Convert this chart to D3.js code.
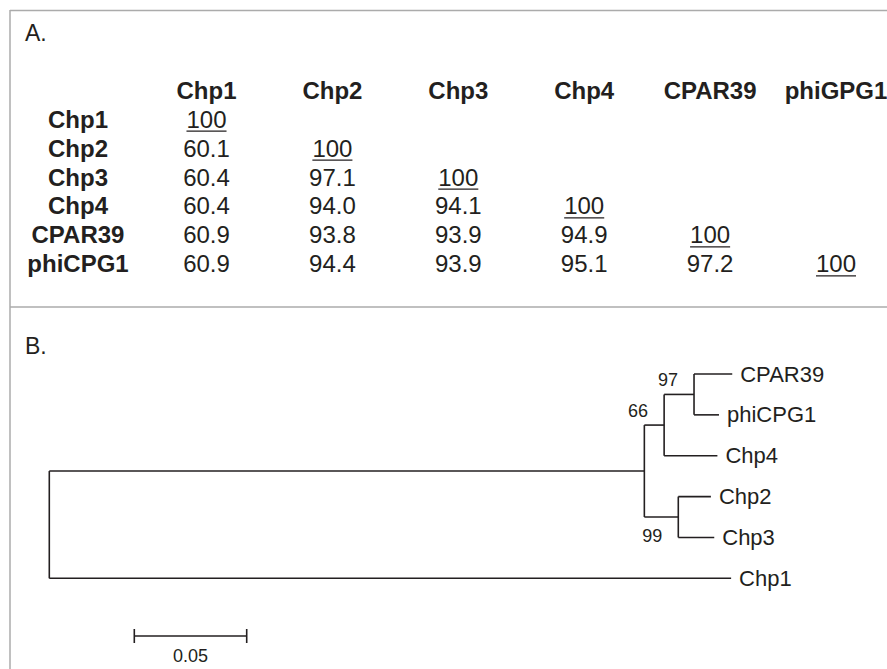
<!DOCTYPE html>
<html lang="en">
<head>
    <meta charset="UTF-8">
    <title>Chp identity and tree</title>
    <script src="https://d3js.org/d3.v7.min.js"></script>
    <style>
        body { margin: 0; background: #fff; }
        text {
            font-family: "Liberation Sans", Arial, sans-serif;
            fill: #231f20;
        }
        .panel-label { font-size: 23px; }
        .head { font-size: 24px; font-weight: bold; text-anchor: middle; }
        .cell { font-size: 24px; text-anchor: middle; }
        .leaf { font-size: 22px; dominant-baseline: central; }
        .boot { font-size: 18px; text-anchor: middle; }
        .scale-label { font-size: 18px; text-anchor: middle; }
    </style>
</head>
<body>
<script>
    // A. pairwise identity table
    let rowNames = ["Chp1", "Chp2", "Chp3", "Chp4", "CPAR39", "phiCPG1"];
    let colNames = ["Chp1", "Chp2", "Chp3", "Chp4", "CPAR39", "phiGPG1"];
    let identity = [
        [100],
        [60.1, 100],
        [60.4, 97.1, 100],
        [60.4, 94.0, 94.1, 100],
        [60.9, 93.8, 93.9, 94.9, 100],
        [60.9, 94.4, 93.9, 95.1, 97.2, 100]
    ];

    // B. tree, as parent links with branch lengths
    let nodeIds    = ["root", "n1", "Chp1", "n66", "n99", "n97", "Chp4", "CPAR39", "phiCPG1", "Chp2", "Chp3"];
    let parentIds  = ["",     "root", "root", "n1", "n1", "n66", "n66", "n97", "n97", "n99", "n99"];
    let branchLens = [0, 0.2647, 0.3033, 0.0088, 0.0151, 0.0133, 0.0237, 0.0170, 0.0111, 0.0145, 0.0160];
    let bootstrap  = [null, null, null, 66, 99, 97, null, null, null, null, null];
    let leafOrder  = ["CPAR39", "phiCPG1", "Chp4", "Chp2", "Chp3", "Chp1"];
    let scaleBarValue = 0.05;

    let width = 887;
    let height = 669;

    let svg = d3.select("body").append("svg")
        .attr("width", width)
        .attr("height", height);

    // frame
    let frameColor = "#ababab";
    svg.append("line")
        .attr("x1", 10).attr("y1", 10.5).attr("x2", width).attr("y2", 10.5)
        .attr("stroke", frameColor).attr("stroke-width", 1.5);
    svg.append("line")
        .attr("x1", 10).attr("y1", 10).attr("x2", 10).attr("y2", height)
        .attr("stroke", frameColor).attr("stroke-width", 1.5);
    svg.append("line")
        .attr("x1", 10).attr("y1", 307).attr("x2", width).attr("y2", 307)
        .attr("stroke", frameColor).attr("stroke-width", 1.5);

    svg.append("text").attr("class", "panel-label")
        .attr("x", 25).attr("y", 41).text("A.");
    svg.append("text").attr("class", "panel-label")
        .attr("x", 25).attr("y", 354).text("B.");

    // ---- table ----
    let xCol = d3.scalePoint().domain(colNames).range([206.5, 836]);
    let yRow = d3.scalePoint().domain(rowNames).range([127.7, 272.3]);
    let rowLabelX = 78;
    let headY = 99;

    svg.selectAll(".colhead")
        .data(colNames)
        .enter().append("text")
        .attr("class", "head")
        .attr("x", d => xCol(d))
        .attr("y", headY)
        .text(d => d);

    svg.selectAll(".rowhead")
        .data(rowNames)
        .enter().append("text")
        .attr("class", "head")
        .attr("x", rowLabelX)
        .attr("y", d => yRow(d))
        .text(d => d);

    let cells = [];
    identity.forEach((row, i) => {
        row.forEach((v, j) => cells.push({row: rowNames[i], col: colNames[j], value: v, diag: i === j}));
    });

    let fmt = v => v === 100 ? "100" : v.toFixed(1);

    let cellText = svg.selectAll(".cell")
        .data(cells)
        .enter().append("text")
        .attr("class", "cell")
        .attr("x", d => xCol(d.col))
        .attr("y", d => yRow(d.row))
        .text(d => fmt(d.value));

    // underline the diagonal
    cellText.filter(d => d.diag).each(function(d) {
        let w = this.getComputedTextLength();
        svg.append("line")
            .attr("x1", xCol(d.col) - w / 2)
            .attr("x2", xCol(d.col) + w / 2)
            .attr("y1", yRow(d.row) + 3.5)
            .attr("y2", yRow(d.row) + 3.5)
            .attr("stroke", "#231f20")
            .attr("stroke-width", 1.2);
    });

    // ---- tree ----
    let table = nodeIds.map((id, i) => ({id: id, parent: parentIds[i], len: branchLens[i], boot: bootstrap[i]}));
    let root = d3.stratify()
        .id(d => d.id)
        .parentId(d => d.parent || null)(table);

    let xTree = d3.scaleLinear().domain([0, scaleBarValue]).range([49.3, 49.3 + 112.4]);
    let yLeaf = d3.scalePoint().domain(leafOrder).range([374, 578.3]);

    root.eachBefore(n => {
        n.dist = (n.parent ? n.parent.dist : 0) + n.data.len;
    });
    root.eachAfter(n => {
        if (n.children) {
            n.children.sort((a, b) => a.yy - b.yy);
            n.yy = (n.children[0].yy + n.children[n.children.length - 1].yy) / 2;
        } else {
            n.yy = yLeaf(n.id);
        }
    });

    let lineColor = "#231f20";
    let tree = svg.append("g")
        .attr("fill", "none")
        .attr("stroke", lineColor)
        .attr("stroke-width", 1.6);

    // horizontal branches
    root.descendants().filter(n => n.parent).forEach(n => {
        tree.append("line")
            .attr("x1", xTree(n.parent.dist))
            .attr("x2", xTree(n.dist))
            .attr("y1", n.yy)
            .attr("y2", n.yy);
    });

    // vertical connectors
    root.descendants().filter(n => n.children).forEach(n => {
        let ys = n.children.map(c => c.yy);
        tree.append("line")
            .attr("x1", xTree(n.dist))
            .attr("x2", xTree(n.dist))
            .attr("y1", d3.min(ys))
            .attr("y2", d3.max(ys));
    });

    // leaf names
    root.leaves().forEach(n => {
        svg.append("text")
            .attr("class", "leaf")
            .attr("x", xTree(n.dist) + 8)
            .attr("y", n.yy)
            .text(n.id);
    });

    // bootstrap values
    let bootOffsets = {66: {dx: -26, dy: -8}, 97: {dx: -26, dy: -8}, 99: {dx: -26, dy: 25}};
    root.descendants().filter(n => n.data.boot != null).forEach(n => {
        let o = bootOffsets[n.data.boot];
        svg.append("text")
            .attr("class", "boot")
            .attr("x", xTree(n.dist) + o.dx)
            .attr("y", n.yy + o.dy)
            .text(n.data.boot);
    });

    // scale bar
    let barX0 = 134.3;
    let barY = 636;
    let barW = xTree(scaleBarValue) - xTree(0);
    let bar = svg.append("g")
        .attr("stroke", lineColor)
        .attr("stroke-width", 1.6);
    bar.append("line")
        .attr("x1", barX0).attr("x2", barX0 + barW)
        .attr("y1", barY).attr("y2", barY);
    [barX0, barX0 + barW].forEach(x => {
        bar.append("line")
            .attr("x1", x).attr("x2", x)
            .attr("y1", barY - 7).attr("y2", barY + 7);
    });
    svg.append("text")
        .attr("class", "scale-label")
        .attr("x", barX0 + barW / 2)
        .attr("y", 662)
        .text(scaleBarValue);
</script>
</body>
</html>
